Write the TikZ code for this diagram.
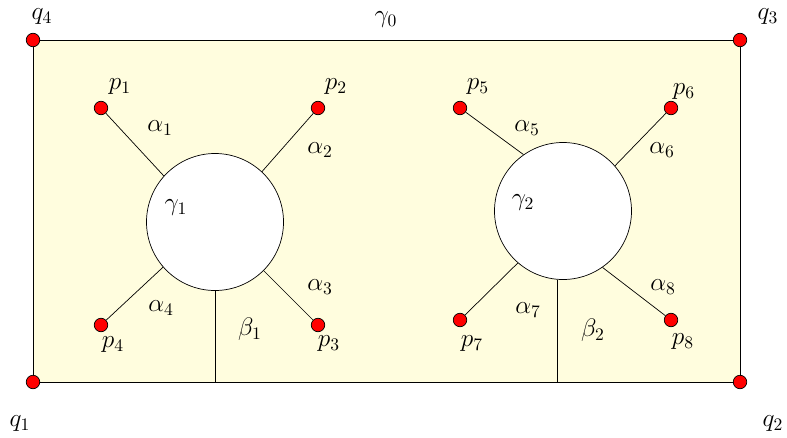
\documentclass[tikz,border=0pt]{standalone}
\usepackage{amsmath}
\begin{document}
\begin{tikzpicture}[every node/.style={font=\Large}]
\tikzset{
  pt/.style={circle,fill=red,draw=black,line width=0.4pt,inner sep=0pt,minimum size=0.27cm},
  hole/.style={circle,draw=black,fill=white,minimum size=2.74cm,inner sep=0pt},
  region/.style={draw=black,fill=yellow!13}
}
\useasboundingbox (-0.66,-1.1) rectangle (15.08,7.64);
% outer boundary gamma_0
\draw[region] (0,0) node[pt] (q1) {} -- (14.14,0) node[pt] (q2) {}
  -- (14.14,6.84) node[pt] (q3) {} -- (0,6.84) node[pt] (q4) {} -- cycle;
% holes
\node[hole] (c1) at (3.64,3.2) {};
\node[hole] (c2) at (10.6,3.42) {};
% punctures
\foreach \n/\x/\y in {p1/1.36/5.48,p2/5.7/5.48,p3/5.7/1.14,p4/1.36/1.14,
                      p5/8.54/5.48,p6/12.76/5.48,p7/8.54/1.24,p8/12.76/1.24}
  \node[pt] (\n) at (\x,\y) {};
% arcs alpha and beta
\draw (p1) -- (c1.138);
\draw (p2) -- (c1.47);
\draw (p3) -- (c1.315);
\draw (p4) -- (c1.221);
\draw (p5) -- (c2.125);
\draw (p6) -- (c2.41);
\draw (p7) -- (c2.229);
\draw (p8) -- (c2.305);
\coordinate (b1) at (c1.south |- q1);
\coordinate (b2) at (c2.265 |- q1);
\draw (c1.south) -- (b1);
\draw (c2.265) -- (b2);
% labels
\node (lq1) at (-0.26,-0.84) {$q_1$};
\node (lq2) at (14.8,-0.84) {$q_2$};
\node (lq3) at (14.7,7.3) {$q_3$};
\node (lq4) at (0.18,7.3) {$q_4$};
\node (lg0) at (7.06,7.24) {$\gamma_0$};
\node (lg1) at (2.86,3.48) {$\gamma_1$};
\node (lg2) at (9.8,3.58) {$\gamma_2$};
\node (lp1) at (1.74,5.9) {$p_1$};
\node (lp2) at (6.06,5.9) {$p_2$};
\node (lp3) at (5.92,0.76) {$p_3$};
\node (lp4) at (1.6,0.74) {$p_4$};
\node (lp5) at (8.9,5.9) {$p_5$};
\node (lp6) at (13.02,5.8) {$p_6$};
\node (lp7) at (8.78,0.76) {$p_7$};
\node (lp8) at (13.0,0.8) {$p_8$};
\node (la1) at (2.54,5.08) {$\alpha_1$};
\node (la2) at (5.74,4.64) {$\alpha_2$};
\node (la3) at (5.74,1.9) {$\alpha_3$};
\node (la4) at (2.56,1.48) {$\alpha_4$};
\node (la5) at (9.88,5.08) {$\alpha_5$};
\node (la6) at (12.58,4.64) {$\alpha_6$};
\node (la7) at (9.9,1.44) {$\alpha_7$};
\node (la8) at (12.6,1.9) {$\alpha_8$};
\node (lb1) at (4.34,1.06) {$\beta_1$};
\node (lb2) at (11.2,1.04) {$\beta_2$};
\end{tikzpicture}
\end{document}
